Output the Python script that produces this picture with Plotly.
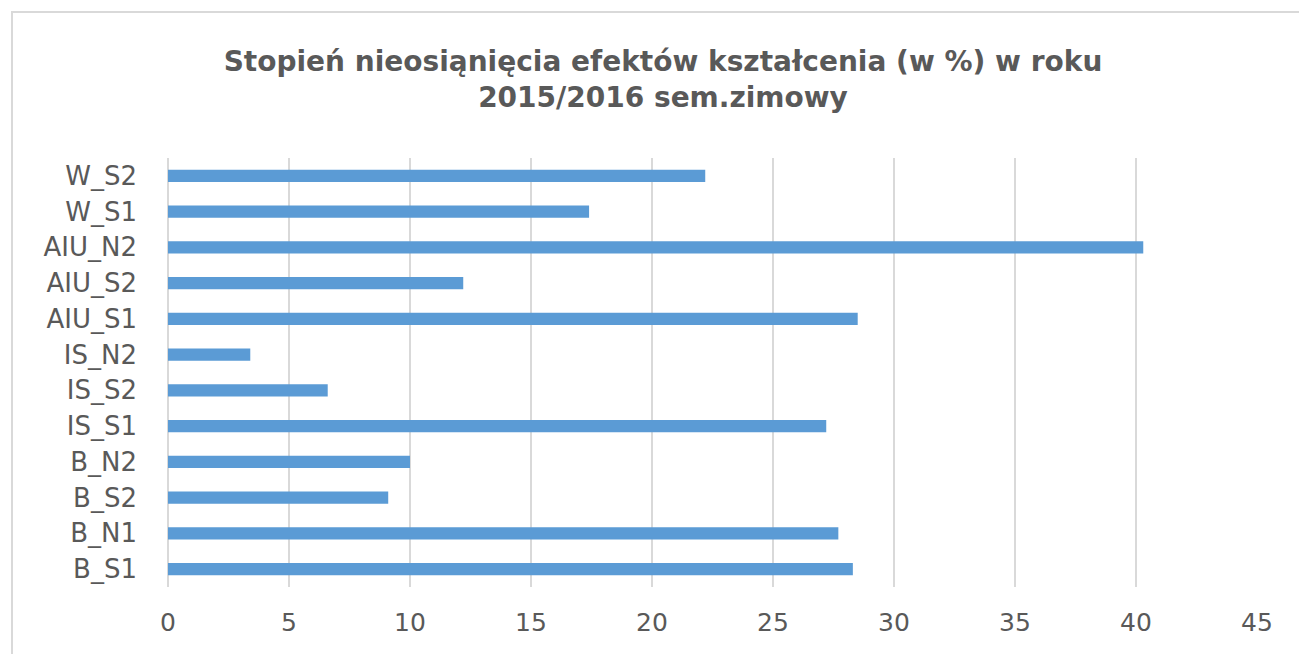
import plotly.graph_objects as go

categories = ["B_S1", "B_N1", "B_S2", "B_N2", "IS_S1", "IS_S2", "IS_N2",
              "AIU_S1", "AIU_S2", "AIU_N2", "W_S1", "W_S2"]
values = [28.3, 27.7, 9.1, 10.0, 27.2, 6.6, 3.4, 28.5, 12.2, 40.3, 17.4, 22.2]
x_ticks = [0, 5, 10, 15, 20, 25, 30, 35, 40, 45]

W, H = 1299, 654
L, R, T, B = 168, 42, 158, 67

fig = go.Figure(go.Bar(
    x=values, y=categories, orientation="h",
    marker=dict(color="#5B9BD5", line=dict(width=0)),
))

pw = W - L - R
ph = H - T - B

fig.update_layout(
    width=W, height=H,
    margin=dict(l=L, r=R, t=T, b=B),
    paper_bgcolor="white", plot_bgcolor="white",
    bargap=0.66,
    showlegend=False,
    title=dict(
        text="<b>Stopień nieosiąnięcia efektów kształcenia (w %) w roku<br>2015/2016 sem.zimowy</b>",
        x=663 / W, xanchor="center", y=1 - 71 / H, yanchor="middle",
        font=dict(family="DejaVu Sans", size=28, color="#595959"),
    ),
    font=dict(family="DejaVu Sans", color="#595959"),
    xaxis=dict(
        range=[0, 45], tickvals=x_ticks, showgrid=True, gridcolor="#D9D9D9",
        gridwidth=2, zeroline=True, zerolinecolor="#D9D9D9", zerolinewidth=2,
        showline=False, ticks="", tickfont=dict(size=25, color="#595959"),
        ticklabelstandoff=18, fixedrange=True,
    ),
    yaxis=dict(
        showgrid=False, zeroline=False, showline=False, ticks="",
        tickfont=dict(size=26, color="#595959"), ticklabelstandoff=30,
        fixedrange=True,
    ),
    shapes=[dict(
        type="rect", xref="paper", yref="paper",
        x0=(12 - L) / pw, x1=(W + 20 - L) / pw,
        y0=-(H + 20 - T - ph) / ph, y1=1 + (T - 12) / ph,
        line=dict(color="#D9D9D9", width=2), layer="below",
    )],
)

fig.write_html("out.html", config={"displayModeBar": False},
               post_script="document.body.style.margin='0';")
